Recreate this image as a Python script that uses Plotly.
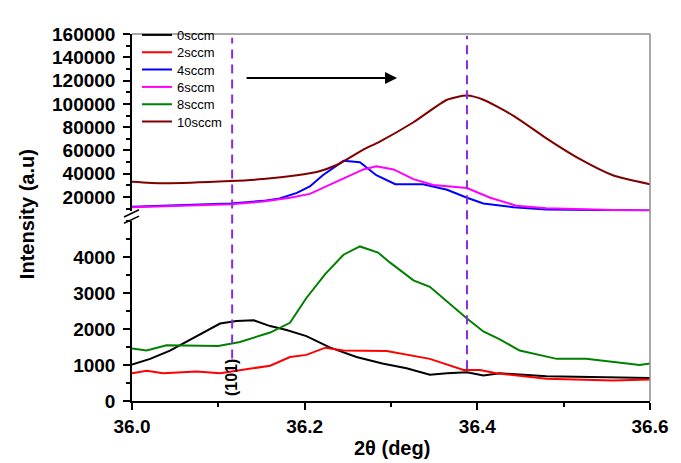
import plotly.graph_objects as go

# ---------------- data ----------------
theta_0sccm = [36.000, 36.021, 36.044, 36.075, 36.102, 36.121, 36.141, 36.160, 36.179, 36.202, 36.229,
               36.260, 36.290, 36.318, 36.345, 36.365, 36.388, 36.407, 36.426, 36.480, 36.538, 36.600]
int_0sccm = [1010, 1170, 1400, 1800, 2150, 2220, 2240, 2080, 1970, 1800, 1490,
             1220, 1040, 910, 730, 770, 800, 710, 770, 690, 660, 640]

theta_2sccm = [36.000, 36.017, 36.036, 36.075, 36.102, 36.125, 36.160, 36.183, 36.202, 36.224, 36.245,
               36.295, 36.345, 36.384, 36.403, 36.422, 36.480, 36.557, 36.600]
int_2sccm = [770, 840, 770, 820, 770, 860, 980, 1220, 1280, 1480, 1400,
             1390, 1170, 860, 860, 770, 620, 570, 600]

theta_4sccm = [36.000, 36.075, 36.114, 36.152, 36.171, 36.191, 36.206, 36.221, 36.245, 36.264, 36.283,
               36.305, 36.337, 36.365, 36.388, 36.407, 36.442, 36.480, 36.600]
int_4sccm = [11700, 13400, 14500, 16700, 18800, 23600, 29100, 38700, 51100, 49800, 38700,
             31000, 31000, 26300, 19400, 14500, 11200, 9300, 8400]

theta_6sccm = [36.000, 36.114, 36.152, 36.183, 36.206, 36.237, 36.268, 36.283, 36.303, 36.326, 36.349,
               36.388, 36.415, 36.445, 36.480, 36.557, 36.600]
int_6sccm = [11200, 13900, 16100, 19400, 22700, 33200, 43700, 46500, 43700, 35400, 30400,
             27700, 19400, 12600, 10300, 8900, 8400]

theta_8sccm = [36.000, 36.017, 36.040, 36.075, 36.100, 36.125, 36.160, 36.183, 36.202, 36.224, 36.245,
               36.264, 36.285, 36.299, 36.326, 36.345, 36.388, 36.407, 36.426, 36.449, 36.492, 36.526,
               36.557, 36.588, 36.600]
int_8sccm = [1460, 1400, 1550, 1550, 1530, 1640, 1900, 2170, 2860, 3530, 4060,
             4290, 4120, 3840, 3350, 3170, 2290, 1930, 1710, 1400, 1170, 1170,
             1090, 1000, 1040]

theta_10sccm = [36.000, 36.036, 36.114, 36.152, 36.191, 36.214, 36.237, 36.268, 36.287, 36.326, 36.365,
                36.388, 36.407, 36.442, 36.480, 36.519, 36.557, 36.600]
int_10sccm = [33200, 31800, 33700, 35400, 38700, 41500, 47500, 60800, 67600, 84200, 103500,
              107100, 103500, 89700, 70400, 52500, 38700, 31000]

peak_positions = [36.116, 36.388]
peak_label = "(101)"
x_ticks = [36.0, 36.2, 36.4, 36.6]
y_ticks_low = [0, 1000, 2000, 3000, 4000]
y_ticks_high = [20000, 40000, 60000, 80000, 100000, 120000, 140000, 160000]
arrow_start = (36.131, 122200)
arrow_end = (36.307, 122200)

# ---------------- figure ----------------
FONT = "Arial, Liberation Sans, sans-serif"
series = [
    ("0sccm", theta_0sccm, int_0sccm, "#000000", "low"),
    ("2sccm", theta_2sccm, int_2sccm, "#FF0000", "low"),
    ("4sccm", theta_4sccm, int_4sccm, "#0000FF", "high"),
    ("6sccm", theta_6sccm, int_6sccm, "#FF00FF", "high"),
    ("8sccm", theta_8sccm, int_8sccm, "#008000", "low"),
    ("10sccm", theta_10sccm, int_10sccm, "#800000", "high"),
]

# page is offset by the 8px default body margin; figure is 673x455
H_PLOT = 381
W_PLOT = 518


def py(p):
    return (401 - p) / H_PLOT


def px(p):
    return (p - 132) / W_PLOT


legend_rows = [21, 39, 57, 75, 93, 111]

fig = go.Figure()
legend_layouts = {}
for i, (name, xs, ys, col, panel) in enumerate(series):
    lname = "legend" if i == 0 else f"legend{i + 1}"
    fig.add_trace(go.Scatter(
        x=xs, y=ys, name=name, mode="lines",
        line=dict(color=col, width=2, shape="spline" if name == "10sccm" else "linear", smoothing=0.6),
        xaxis="x" if panel == "low" else "x2",
        yaxis="y" if panel == "low" else "y2",
        legend=lname,
    ))
    legend_layouts[lname] = dict(
        x=px(137), y=py(legend_rows[i]), xanchor="left", yanchor="middle",
        bgcolor="rgba(0,0,0,0)", borderwidth=0,
        font=dict(family=FONT, size=13, color="black"), itemwidth=30,
    )

tickfont = dict(family=FONT, size=19, color="black", weight="bold")
common_y = dict(ticks="outside", ticklen=7, tickwidth=1.5, tickcolor="black",
                showline=True, linecolor="black", linewidth=1.5, showgrid=False,
                zeroline=False, tickfont=tickfont, ticklabelstandoff=4)

fig.update_layout(
    width=673, height=455,
    margin=dict(l=124, r=31, t=12, b=62),
    paper_bgcolor="white", plot_bgcolor="white",
    font=dict(family=FONT, color="black"),
    xaxis=dict(range=[36.0, 36.6], domain=[0, 1], anchor="y",
               tickvals=x_ticks, ticktext=[f"{v:.1f}" for v in x_ticks],
               ticks="outside", ticklen=7, tickwidth=1.5, tickcolor="black",
               minor=dict(dtick=0.1, tick0=36.0, ticks="outside", ticklen=4, tickwidth=1.5, tickcolor="black"),
               showline=True, linecolor="black", linewidth=1.5, showgrid=False, zeroline=False,
               tickfont=tickfont),
    xaxis2=dict(matches="x", anchor="y2", visible=False, range=[36.0, 36.6], domain=[0, 1]),
    yaxis=dict(domain=[0, py(214)], range=[0, 5000], tickvals=y_ticks_low,
               ticktext=[str(v) for v in y_ticks_low],
               minor=dict(dtick=500, tick0=0, ticks="outside", ticklen=4, tickwidth=1.5, tickcolor="black"),
               **common_y),
    yaxis2=dict(domain=[py(204), 1], range=[7800, 160000], tickvals=y_ticks_high,
                ticktext=[str(v) for v in y_ticks_high],
                minor=dict(dtick=10000, tick0=0, ticks="outside", ticklen=4, tickwidth=1.5, tickcolor="black"),
                anchor="x2", **common_y),
    showlegend=True,
    **legend_layouts,
)

shapes = [
    # gray frame top and right
    dict(type="line", xref="paper", yref="paper", x0=0, x1=1, y0=1, y1=1,
         line=dict(color="#8c8c8c", width=1.5)),
    dict(type="line", xref="paper", yref="paper", x0=1, x1=1, y0=0, y1=1,
         line=dict(color="#8c8c8c", width=1.5)),
    # axis break marks
    dict(type="line", xref="paper", yref="paper", x0=px(124), x1=px(139), y0=py(210), y1=py(202.5),
         line=dict(color="black", width=1.5)),
    dict(type="line", xref="paper", yref="paper", x0=px(124), x1=px(139), y0=py(216.5), y1=py(209),
         line=dict(color="black", width=1.5)),
    # peak position dashed lines
    dict(type="line", xref="x", yref="paper", x0=peak_positions[0], x1=peak_positions[0],
         y0=py(357), y1=py(24), line=dict(color="#8A2BE2", width=2, dash="9px,6px")),
    dict(type="line", xref="x", yref="paper", x0=peak_positions[1], x1=peak_positions[1],
         y0=py(368), y1=py(22), line=dict(color="#8A2BE2", width=2, dash="9px,6px")),
]
fig.update_layout(shapes=shapes)

annotations = [
    dict(text="Intensity (a.u)", xref="paper", yref="paper", x=px(27), y=py(207),
         textangle=-90, showarrow=False, xanchor="center", yanchor="middle",
         font=dict(family=FONT, size=20, color="black", weight="bold")),
    dict(text="2θ (deg)", xref="paper", yref="paper", x=px(392), y=py(450),
         showarrow=False, xanchor="center", yanchor="middle",
         font=dict(family=FONT, size=20, color="black", weight="bold")),
    dict(text=peak_label, xref="x", yref="y", x=peak_positions[0], y=640,
         textangle=-90, showarrow=False, xanchor="center", yanchor="middle",
         font=dict(family=FONT, size=16, color="black", weight="bold")),
    dict(text="", xref="x2", yref="y2", x=arrow_end[0], y=arrow_end[1],
         ax=arrow_start[0], ay=arrow_start[1], axref="x2", ayref="y2",
         showarrow=True, arrowhead=2, arrowsize=1.2, arrowwidth=2, arrowcolor="black"),
]
fig.update_layout(annotations=annotations)

fig.write_html("out.html")
